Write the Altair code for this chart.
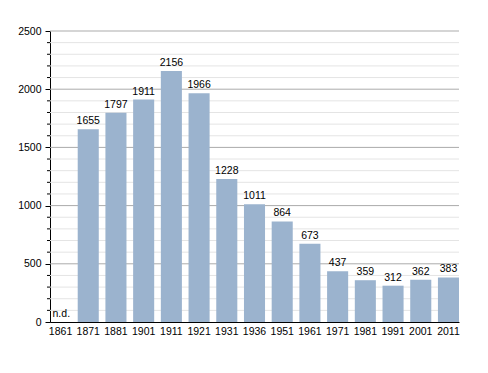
import altair as alt
import pandas as pd

years = ["1861", "1871", "1881", "1901", "1911", "1921", "1931", "1936",
         "1951", "1961", "1971", "1981", "1991", "2001", "2011"]
population = [None, 1655, 1797, 1911, 2156, 1966, 1228, 1011,
              864, 673, 437, 359, 312, 362, 383]
missing_label = "n.d."
major_ticks = [0, 500, 1000, 1500, 2000, 2500]
minor_ticks = [v for v in range(100, 2500, 100) if v % 500 != 0]

df = pd.DataFrame({"year": years, "pop": population})
bars_df = df.dropna()
nd_df = pd.DataFrame({"year": ["1861"], "pop": [0], "label": [missing_label]})
major_df = pd.DataFrame({"v": major_ticks[1:]})
minor_df = pd.DataFrame({"v": minor_ticks})

W, H = 409, 291
FONT = "Liberation Sans"
FS = 10.5
yscale = alt.Scale(domain=[0, 2500], nice=False)
x_enc = alt.X("year:N", sort=years, title=None,
              scale=alt.Scale(paddingInner=0.24, paddingOuter=0.0),
              axis=alt.Axis(labelAngle=0, ticks=False, labelPadding=4,
                            labelFontSize=FS, labelColor="black", labelFont=FONT,
                            domainColor="black", grid=False))
y_enc = alt.Y("pop:Q", title=None, scale=yscale,
              axis=alt.Axis(values=major_ticks, format="d", labelOverlap=False,
                            labelFontSize=FS, labelColor="black", labelFont=FONT,
                            domainColor="black", tickColor="black", tickSize=5,
                            grid=False, labelPadding=4))

minor_grid = alt.Chart(minor_df).mark_rule(color="#e4e4e4", strokeWidth=1).encode(
    y=alt.Y("v:Q", scale=yscale), x=alt.value(0), x2=alt.value(W))
major_grid = alt.Chart(major_df).mark_rule(color="#ababab", strokeWidth=1).encode(
    y=alt.Y("v:Q", scale=yscale), x=alt.value(0), x2=alt.value(W))
minor_tick = alt.Chart(minor_df).mark_rule(color="black", strokeWidth=1).encode(
    y=alt.Y("v:Q", scale=yscale), x=alt.value(-3), x2=alt.value(0))

bars = alt.Chart(bars_df).mark_bar(color="#9bb3ce").encode(x=x_enc, y=y_enc)
labels = alt.Chart(bars_df).mark_text(baseline="bottom", dy=-3, fontSize=FS,
                                      font=FONT, color="black").encode(
    x=alt.X("year:N", sort=years), y="pop:Q", text=alt.Text("pop:Q", format="d"))
nd = alt.Chart(nd_df).mark_text(align="left", baseline="bottom", dx=-8, dy=-3,
                                fontSize=FS, font=FONT, color="black").encode(
    x=alt.X("year:N", sort=years), y="pop:Q", text="label:N")

chart = alt.layer(minor_grid, major_grid, minor_tick, bars, labels, nd).properties(
    width=W, height=H,
    autosize=alt.AutoSizeParams(type="none"),
    padding={"left": 42, "top": 23, "right": 21, "bottom": 43},
).configure_view(stroke=None)

chart.save("out.html", embed_options={"renderer": "svg", "actions": False})
